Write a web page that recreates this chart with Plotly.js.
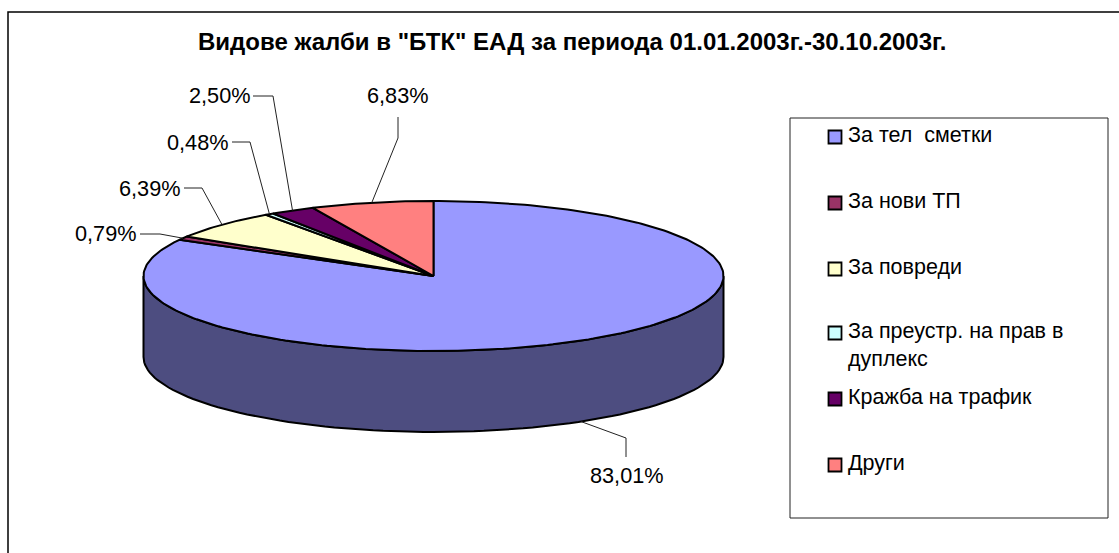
<!DOCTYPE html>
<html><head><meta charset="utf-8">
<script src="https://cdn.plot.ly/plotly-3.0.1.min.js"></script>
<style>html,body{margin:0;padding:0;background:#fff;overflow:hidden}#c{width:1119px;height:553px}</style>
</head><body><div id="c"></div>
<script>
const categories = ['За тел \u00a0сметки','За нови ТП','За повреди','За преустр. на прав в<br>дуплекс','Кражба на трафик','Други'];
const shares = [83.01,0.79,6.39,0.48,2.50,6.83];
const shareLabels = ['83,01%','0,79%','6,39%','0,48%','2,50%','6,83%'];
const colors = ['#9999FF','#993366','#FFFFCC','#CCFFFF','#660066','#FF8080'];
const sideColor = '#4D4D80';
const titleText = 'Видове жалби в "БТК" ЕАД за периода 01.01.2003г.-30.10.2003г.';

const W=1119,H=553,cx=433.5,cy=276,rx=290,ry=75,depth=81/75;
const px=v=>v/W, py=v=>1-v/H;
const ang=p=>p/100*2*Math.PI;
const ex=a=>Math.sin(a), ey=a=>Math.cos(a);
const OUT='#000';
const traces=[];
// side wall: the visible front half of the rim
(function(){
  const xs=[],ys=[];
  for(let d=90;d<=270;d+=2){const a=d*Math.PI/180;xs.push(ex(a));ys.push(ey(a));}
  for(let d=270;d>=90;d-=2){const a=d*Math.PI/180;xs.push(ex(a));ys.push(ey(a)-depth);}
  xs.push(xs[0]);ys.push(ys[0]);
  traces.push({type:'scatter',mode:'lines',x:xs,y:ys,fill:'toself',fillcolor:sideColor,line:{color:OUT,width:2},hoverinfo:'skip',showlegend:false});
})();
// top face slices
const total=shares.reduce((a,b)=>a+b,0);
let cum=0; const mids=[];
shares.forEach((s,i)=>{
  const a0=ang(cum/total*100), a1=ang((cum+s)/total*100);
  mids.push((a0+a1)/2);
  const n=Math.max(2,Math.ceil((a1-a0)/0.02));
  const xs=[0],ys=[0];
  for(let k=0;k<=n;k++){const a=a0+(a1-a0)*k/n;xs.push(ex(a));ys.push(ey(a));}
  xs.push(0);ys.push(0);
  traces.push({type:'scatter',mode:'lines',name:categories[i],x:xs,y:ys,fill:'toself',fillcolor:colors[i],line:{color:OUT,width:2},hoverinfo:'name',showlegend:false});
  cum+=s;
});
// legend swatches, drawn as square markers in paper-aligned positions
const legendY=[137,203,269,333,399,465];
const lx=835;
const toDataX=v=>(v-cx)/rx, toDataY=v=>(cy-v)/ry;
traces.push({type:'scatter',mode:'markers',x:legendY.map(()=>toDataX(lx)),y:legendY.map(toDataY),
  marker:{symbol:'square',size:13,color:colors,line:{color:OUT,width:1.8}},hoverinfo:'skip',showlegend:false});

// leader lines: [label-side point, elbow] in pixels, ends on the rim at each slice's mid-angle
const leaders=[
  {i:0,p:[[626,457],[626,438]],front:true},
  {i:1,p:[[140,234],[160,234]]},
  {i:2,p:[[184,188],[202,188]]},
  {i:3,p:[[232,142],[250,142]]},
  {i:4,p:[[253,96],[273,96]]},
  {i:5,p:[[398,117],[398,138]]}
];
leaders.forEach(l=>{
  const a=mids[l.i];
  traces.push({type:'scatter',mode:'lines',
    x:[toDataX(l.p[0][0]),toDataX(l.p[1][0]),ex(a)],
    y:[toDataY(l.p[0][1]),toDataY(l.p[1][1]),ey(a)-(l.front?depth:0)],
    line:{color:'#222',width:1},hoverinfo:'skip',showlegend:false});
});

const labelPos=[[627,475],[106,233],[150,188],[198,142],[220,96],[398,96]];
const font={family:'"Liberation Sans",Arial,sans-serif',color:'#000'};
const annotations=shareLabels.map((t,i)=>({xref:'paper',yref:'paper',x:px(labelPos[i][0]),y:py(labelPos[i][1]),
  text:t,showarrow:false,xanchor:'center',yanchor:'middle',font:{...font,size:21.7}}));
annotations.push({xref:'paper',yref:'paper',x:px(572),y:py(41),text:'<b>'+titleText+'</b>',showarrow:false,xanchor:'center',yanchor:'middle',font:{...font,size:24}});
categories.forEach((c,i)=>{
  c.split('<br>').forEach((line,j)=>{
    annotations.push({xref:'paper',yref:'paper',x:px(846),y:py(legendY[i]-2+j*28),text:line,showarrow:false,xanchor:'left',yanchor:'middle',font:{...font,size:21.5}});
  });
});
const shapes=[
  {type:'path',xref:'paper',yref:'paper',path:`M ${px(8)} ${py(H+5)} L ${px(8)} ${py(12)} L ${px(W+5)} ${py(12)}`,line:{color:'#000',width:1.5},layer:'below'},
  {type:'rect',xref:'paper',yref:'paper',x0:px(790),x1:px(1108),y0:py(118),y1:py(518),line:{color:'#222',width:1},fillcolor:'#fff',layer:'below'}
];
const layout={width:W,height:H,margin:{l:0,r:0,t:0,b:0},paper_bgcolor:'#fff',plot_bgcolor:'rgba(0,0,0,0)',showlegend:false,
  xaxis:{range:[-cx/rx,(W-cx)/rx],visible:false,fixedrange:true},
  yaxis:{range:[-(H-cy)/ry,cy/ry],visible:false,fixedrange:true},
  shapes,annotations};
Plotly.newPlot('c',traces,layout,{displayModeBar:false,staticPlot:true});
</script></body></html>
